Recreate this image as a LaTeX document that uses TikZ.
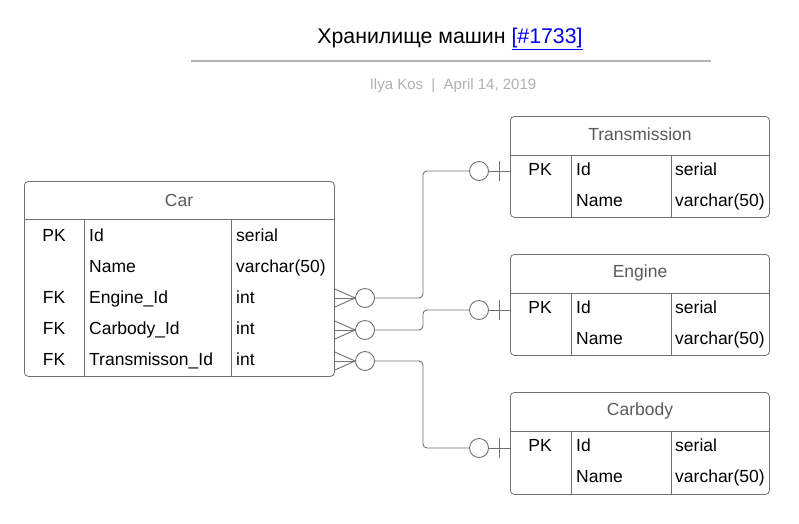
\documentclass[tikz,border=0pt]{standalone}
\usepackage{fontspec}
\setmainfont{Liberation Sans}
\definecolor{linegray}{HTML}{707070}
\definecolor{headgray}{HTML}{5A5A5A}
\definecolor{subgray}{HTML}{B0B0B0}
\definecolor{rulegray}{HTML}{B3B3B3}
\definecolor{linkblue}{HTML}{0000EE}
\newcommand{\erfont}{\fontsize{17.5}{20}\selectfont}

\begin{document}
\begin{tikzpicture}[
    x=1pt, y=-1pt,
    tbl/.style={draw=linegray, line width=0.8pt, rounded corners=4pt, anchor=north west, inner sep=0pt},
    grid/.style={draw=linegray, line width=0.8pt},
    head/.style={text=headgray, font=\erfont, anchor=center},
    keycell/.style={font=\erfont, anchor=base, inner sep=0pt},
    cell/.style={font=\erfont, anchor=base west, inner sep=0pt},
    conn/.style={draw=linegray, line width=0.9pt, rounded corners=4pt},
    optc/.style={circle, draw=linegray, line width=0.9pt, fill=white, minimum size=19pt, inner sep=0pt}
]
\useasboundingbox (0,0) rectangle (799,523);

% ---- title ----
\node[font=\fontsize{21.3}{24}\selectfont, anchor=base] (title) at (450,43)
    {Хранилище машин \textcolor{linkblue}{\underline{[\#1733]}}};
\draw[draw=rulegray, line width=1.6pt] (191,61) -- (711,61);
\node[font=\fontsize{15}{18}\selectfont, text=subgray, anchor=base] (byline) at (453,89)
    {Ilya Kos\ \ |\ \ April 14, 2019};

% ---- Car ----
\node[tbl, minimum width=310pt, minimum height=195pt] (car) at (24,181) {};
\draw[grid] (24,219) -- (334,219);
\draw[grid] (84,219) -- (84,376);
\draw[grid] (231,219) -- (231,376);
\node[head] (car-h) at (179,200) {Car};
\node[keycell] at (54,241.5) {PK};
\node[cell] at (89,241.5) {Id};
\node[cell] at (236,241.5) {serial};
\node[cell] at (89,272.5) {Name};
\node[cell] at (236,272.5) {varchar(50)};
\node[keycell] at (54,303.5) {FK};
\node[cell] at (89,303.5) {Engine\_Id};
\node[cell] at (236,303.5) {int};
\node[keycell] at (54,334.5) {FK};
\node[cell] at (89,334.5) {Carbody\_Id};
\node[cell] at (236,334.5) {int};
\node[keycell] at (54,365.5) {FK};
\node[cell] at (89,365.5) {Transmisson\_Id};
\node[cell] at (236,365.5) {int};

% ---- Transmission ----
\node[tbl, minimum width=259pt, minimum height=101pt] (trans) at (510,116) {};
\draw[grid] (510,155) -- (769,155);
\draw[grid] (571,155) -- (571,217);
\draw[grid] (671,155) -- (671,217);
\node[head] (trans-h) at (640,134) {Transmission};
\node[keycell] at (540,175.5) {PK};
\node[cell] at (576,175.5) {Id};
\node[cell] at (675,175.5) {serial};
\node[cell] at (576,206.5) {Name};
\node[cell] at (675,206.5) {varchar(50)};

% ---- Engine ----
\node[tbl, minimum width=259pt, minimum height=101pt] (eng) at (510,254) {};
\draw[grid] (510,293) -- (769,293);
\draw[grid] (571,293) -- (571,355);
\draw[grid] (671,293) -- (671,355);
\node[head] (eng-h) at (640,273) {Engine};
\node[keycell] at (540,313.5) {PK};
\node[cell] at (576,313.5) {Id};
\node[cell] at (675,313.5) {serial};
\node[cell] at (576,344.5) {Name};
\node[cell] at (675,344.5) {varchar(50)};

% ---- Carbody ----
\node[tbl, minimum width=259pt, minimum height=102pt] (body) at (510,392) {};
\draw[grid] (510,431) -- (769,431);
\draw[grid] (571,431) -- (571,494);
\draw[grid] (671,431) -- (671,494);
\node[head] (body-h) at (640,411) {Carbody};
\node[keycell] at (540,451.5) {PK};
\node[cell] at (576,451.5) {Id};
\node[cell] at (675,451.5) {serial};
\node[cell] at (576,482.5) {Name};
\node[cell] at (675,482.5) {varchar(50)};

% ---- relations ----
\node[optc] (m1) at (365,298) {};
\node[optc] (m2) at (365,330) {};
\node[optc] (m3) at (365,361) {};
\node[optc] (o1) at (479,171) {};
\node[optc] (o2) at (479,310) {};
\node[optc] (o3) at (479,448) {};

\foreach \m in {m1,m2,m3}
  \foreach \d in {-9,0,9}
    \draw[conn] (\m.west) -- ([yshift=\d pt]car.east |- \m);

\draw[conn] (m1.east) -- ++(48,0) |- (o1.west);
\draw[conn] (m2.east) -- ++(48,0) |- (o2.west);
\draw[conn] (m3.east) -- ++(48,0) |- (o3.west);

\draw[conn] (o1.east) -- (trans.west |- o1);
\draw[conn] (o2.east) -- (eng.west |- o2);
\draw[conn] (o3.east) -- (body.west |- o3);
\draw[conn] ([xshift=-11pt]trans.west |- o1) ++(0,-10) -- ++(0,20);
\draw[conn] ([xshift=-11pt]eng.west |- o2) ++(0,-10) -- ++(0,20);
\draw[conn] ([xshift=-11pt]body.west |- o3) ++(0,-10) -- ++(0,20);

\end{tikzpicture}
\end{document}
